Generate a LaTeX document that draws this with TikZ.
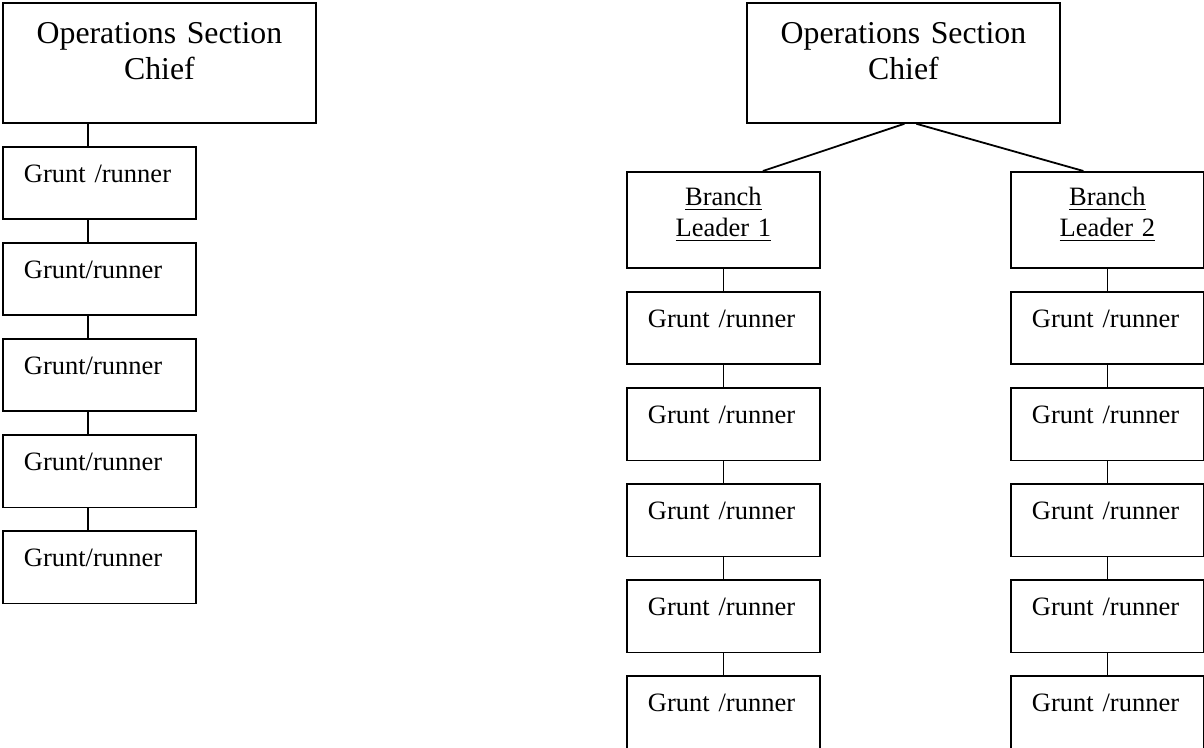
\documentclass[tikz,border=0pt]{standalone}
\usepackage{fontspec}
\setmainfont{Liberation Serif}
\tikzset{
  chiefbox/.style={draw, line width=0.9pt, inner xsep=0pt, inner ysep=0pt, text width=156.5pt, align=center, text height=20.5pt, text depth=39.5pt, font=\fontsize{15.9}{18}\selectfont},
  branchbox/.style={draw, line width=0.9pt, inner xsep=0pt, inner ysep=0pt, text width=96.5pt, align=center, text height=17pt, text depth=31pt, font=\fontsize{13.25}{15.5}\selectfont},
  gruntbox/.style={draw, line width=0.9pt, inner xsep=10.5pt, inner ysep=0pt, text width=75.5pt, align=left, text height=18pt, text depth=18.25pt, font=\fontsize{13.25}{15.5}\selectfont},
  link/.style={line width=0.9pt}
}
\begin{document}
\begin{tikzpicture}[x=0.5pt,y=-0.5pt]

\def\LINKSHIFT{43pt}
	\useasboundingbox (0,0) rectangle (1204,748);
	% single chain
	\node[chiefbox, anchor=north west] (chiefL) at (2,2) {Operations Section\\Chief};
	\node[gruntbox, anchor=north west] (gL1) at (2,146) {Grunt /runner};
	\node[gruntbox, anchor=north west] (gL2) at (2,242) {Grunt/runner};
	\node[gruntbox, anchor=north west] (gL3) at (2,338) {Grunt/runner};
	\node[gruntbox, anchor=north west] (gL4) at (2,434) {Grunt/runner};
	\node[gruntbox, anchor=north west] (gL5) at (2,530) {Grunt/runner};
	\coordinate (tapL) at ([xshift=\LINKSHIFT]gL1.north west);
	\draw[link] (tapL) -- (tapL |- chiefL.south);
	\draw[link] ([xshift=\LINKSHIFT]gL1.south west) -- ([xshift=\LINKSHIFT]gL2.north west);
	\draw[link] ([xshift=\LINKSHIFT]gL2.south west) -- ([xshift=\LINKSHIFT]gL3.north west);
	\draw[link] ([xshift=\LINKSHIFT]gL3.south west) -- ([xshift=\LINKSHIFT]gL4.north west);
	\draw[link] ([xshift=\LINKSHIFT]gL4.south west) -- ([xshift=\LINKSHIFT]gL5.north west);

	% two branches
	\node[chiefbox, anchor=north west] (chiefR) at (746,2) {Operations Section\\Chief};
	\node[branchbox, anchor=north west] (brA) at (626,171) {\underline{Branch}\\\underline{Leader 1}};
	\node[branchbox, anchor=north west] (brB) at (1010,171) {\underline{Branch}\\\underline{Leader 2}};
	\draw[link] ([xshift=0.5pt]chiefR.south) -- ([xshift=19.75pt]brA.north);
	\draw[link] ([xshift=6.5pt]chiefR.south) -- ([xshift=-12pt]brB.north);

	\node[gruntbox, anchor=north west] (gA1) at (626,291) {Grunt /runner};
	\node[gruntbox, anchor=north west] (gA2) at (626,387) {Grunt /runner};
	\node[gruntbox, anchor=north west] (gA3) at (626,483) {Grunt /runner};
	\node[gruntbox, anchor=north west] (gA4) at (626,579) {Grunt /runner};
	\node[gruntbox, anchor=north west] (gA5) at (626,675) {Grunt /runner};
	\draw[link] (brA.south) -- (gA1.north);
	\draw[link] (gA1.south) -- (gA2.north);
	\draw[link] (gA2.south) -- (gA3.north);
	\draw[link] (gA3.south) -- (gA4.north);
	\draw[link] (gA4.south) -- (gA5.north);

	\node[gruntbox, anchor=north west] (gB1) at (1010,291) {Grunt /runner};
	\node[gruntbox, anchor=north west] (gB2) at (1010,387) {Grunt /runner};
	\node[gruntbox, anchor=north west] (gB3) at (1010,483) {Grunt /runner};
	\node[gruntbox, anchor=north west] (gB4) at (1010,579) {Grunt /runner};
	\node[gruntbox, anchor=north west] (gB5) at (1010,675) {Grunt /runner};
	\draw[link] (brB.south) -- (gB1.north);
	\draw[link] (gB1.south) -- (gB2.north);
	\draw[link] (gB2.south) -- (gB3.north);
	\draw[link] (gB3.south) -- (gB4.north);
	\draw[link] (gB4.south) -- (gB5.north);

\end{tikzpicture}
\end{document}
